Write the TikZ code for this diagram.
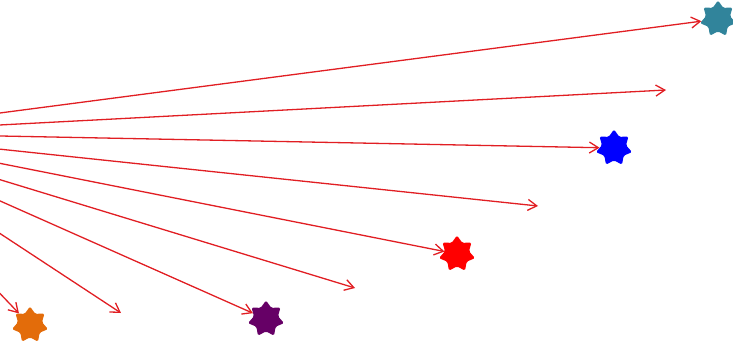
\documentclass[tikz,border=0pt]{standalone}
\usetikzlibrary{arrows.meta,shapes.geometric}
\definecolor{arrowred}{RGB}{225,30,35}
\definecolor{teal7}{RGB}{49,132,155}
\definecolor{blue7}{RGB}{0,0,255}
\definecolor{red7}{RGB}{255,0,0}
\definecolor{purple7}{RGB}{102,0,102}
\definecolor{orange7}{RGB}{227,108,10}
\tikzset{
  starnode/.style={star, star points=7, star point ratio=1.5, minimum size=37pt,
    inner sep=0pt, rounded corners=1.5pt, fill=#1, draw=none},
  ray/.style={draw=arrowred, line width=1.3pt, -{Straight Barb[length=9pt,width=11pt,line width=1.3pt]}}
}
\begin{document}
\begin{tikzpicture}[x=1pt,y=-1pt]
\useasboundingbox (0,0) rectangle (733,340);
\clip (0,0) rectangle (733,340);
\coordinate (o) at (-153,133);
\node[starnode=teal7] (s1) at (718,19) {};
\node[starnode=blue7] (s2) at (614,148) {};
\node[starnode=red7] (s3) at (457,254) {};
\node[starnode=purple7] (s4) at (266,319) {};
\node[starnode=orange7] (s5) at (30,325) {};
\coordinate (e1) at (666,90);
\coordinate (e2) at (538,206);
\coordinate (e3) at (355,288);
\coordinate (e4) at (121,313);
\draw[ray] (o) -- (s1);
\draw[ray] (o) -- (e1);
\draw[ray] (o) -- (s2);
\draw[ray] (o) -- (e2);
\draw[ray] (o) -- (s3);
\draw[ray] (o) -- (e3);
\draw[ray] (o) -- (s4);
\draw[ray] (o) -- (e4);
\draw[ray] (o) -- (s5);
\end{tikzpicture}
\end{document}
